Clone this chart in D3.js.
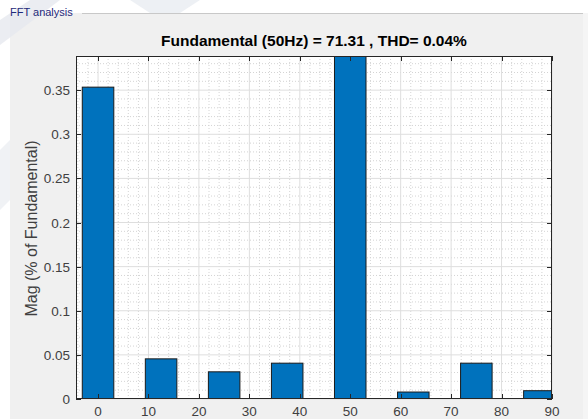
<!DOCTYPE html>
<html><head><meta charset="utf-8">
<script src="https://cdn.jsdelivr.net/npm/d3@7"></script>
<style>html,body{margin:0;padding:0;background:#fff;overflow:hidden}</style>
</head><body>
<svg id="c" width="588" height="419"></svg>
<script>
const freqs = [0, 12.5, 25, 37.5, 50, 62.5, 75, 87.5];
const mags = [0.3534, 0.0455, 0.0308, 0.0406, 100, 0.0079, 0.0406, 0.0094];
const xTicks = [0, 10, 20, 30, 40, 50, 60, 70, 80, 90];
const yTicks = [0, 0.05, 0.1, 0.15, 0.2, 0.25, 0.3, 0.35];
const titleText = "Fundamental (50Hz) = 71.31 , THD= 0.04%";
const yLabel = "Mag (% of Fundamental)";
const panelTitle = "FFT analysis";

const svg = d3.select("#c");
const font = "'Liberation Sans', Arial, Helvetica, sans-serif";
const L = 76, R = 552, T = 56, B = 399;
const x = d3.scaleLinear().domain([-4.37, 90]).range([L, R]);
const y = d3.scaleLinear().domain([0, 0.3887]).range([B, T]);

// background / watermark
svg.append("rect").attr("width", 588).attr("height", 419).attr("fill", "#ffffff");
svg.append("rect").attr("x", 10).attr("y", 13).attr("width", 573).attr("height", 406).attr("fill", "#f0f0f0");
svg.append("rect").attr("x", 583).attr("y", 13).attr("width", 5).attr("height", 406).attr("fill", "#f5f5f5");
svg.append("path").attr("d", "M0,20 L30,0 L60,0 L0,45 Z").attr("fill", "#e6e9ef").attr("opacity", 0.8);
svg.append("path").attr("d", "M0,150 L10,140 L10,200 L0,210 Z").attr("fill", "#e6e9ef").attr("opacity", 0.6);
svg.append("path").attr("d", "M130,0 L200,0 L180,13 L150,13 Z").attr("fill", "#e6e9ef").attr("opacity", 0.7);
// panel border
svg.append("line").attr("x1", 82).attr("x2", 583).attr("y1", 13.5).attr("y2", 13.5).attr("stroke", "#c8c8c8");
svg.append("text").attr("x", 10).attr("y", 16).attr("font-family", font).attr("font-size", 11)
  .attr("fill", "#1f2a7a").text(panelTitle);

// plot area
svg.append("rect").attr("x", L).attr("y", T).attr("width", R - L).attr("height", B - T).attr("fill", "#fff");
svg.append("clipPath").attr("id", "clip").append("rect").attr("x", L).attr("y", T).attr("width", R - L).attr("height", B - T);

const g = svg.append("g");
// minor grid
const xMinor = d3.range(-4, 91, 2).filter(v => v % 10 !== 0 && v >= -4.37);
const yMinor = d3.range(1, 39).map(v => v * 0.01).filter(v => Math.round(v * 100) % 5 !== 0);
g.selectAll(".xm").data(xMinor).join("line").attr("x1", d => x(d)).attr("x2", d => x(d)).attr("y1", T).attr("y2", B)
  .attr("stroke", "#d4d4d4").attr("stroke-width", 1).attr("stroke-dasharray", "1,2");
g.selectAll(".ym").data(yMinor).join("line").attr("y1", d => y(d)).attr("y2", d => y(d)).attr("x1", L).attr("x2", R)
  .attr("stroke", "#d4d4d4").attr("stroke-width", 1).attr("stroke-dasharray", "1,2");
// major grid
g.selectAll(".xg").data(xTicks).join("line").attr("x1", d => x(d)).attr("x2", d => x(d)).attr("y1", T).attr("y2", B)
  .attr("stroke", "#dedede").attr("stroke-width", 1);
g.selectAll(".yg").data(yTicks).join("line").attr("y1", d => y(d)).attr("y2", d => y(d)).attr("x1", L).attr("x2", R)
  .attr("stroke", "#dedede").attr("stroke-width", 1);

// bars
const bw = x(6.25) - x(0);
svg.append("g").attr("clip-path", "url(#clip)").selectAll("rect").data(freqs).join("rect")
  .attr("x", (d) => x(d) - bw / 2).attr("width", bw)
  .attr("y", (d, i) => y(Math.min(mags[i], 1))).attr("height", (d, i) => B - y(Math.min(mags[i], 1)))
  .attr("fill", "#0072BD").attr("stroke", "#1a1a1a").attr("stroke-width", 1);

// axes
const ax = svg.append("g").attr("stroke", "#262626").attr("stroke-width", 1).attr("fill", "none");
ax.append("rect").attr("x", L + 0.5).attr("y", T + 0.5).attr("width", R - L - 1).attr("height", B - T - 1);
const tl = 5;
xTicks.forEach(v => {
  const px = Math.round(x(v)) + 0.5;
  ax.append("line").attr("x1", px).attr("x2", px).attr("y1", B).attr("y2", B - tl);
  ax.append("line").attr("x1", px).attr("x2", px).attr("y1", T).attr("y2", T + tl);
});
yTicks.forEach(v => {
  const py = Math.round(y(v)) + 0.5;
  ax.append("line").attr("y1", py).attr("y2", py).attr("x1", L).attr("x2", L + tl);
  ax.append("line").attr("y1", py).attr("y2", py).attr("x1", R).attr("x2", R - tl);
});

// tick labels
svg.append("g").selectAll("text").data(xTicks).join("text")
  .attr("x", d => x(d)).attr("y", 415.5).attr("text-anchor", "middle")
  .attr("font-family", font).attr("font-size", 13.5).attr("fill", "#404040").text(d => d);
svg.append("g").selectAll("text").data(yTicks).join("text")
  .attr("x", L - 6).attr("y", d => y(d) + 5).attr("text-anchor", "end")
  .attr("font-family", font).attr("font-size", 13.5).attr("fill", "#404040").text(d => d);

// title & label
svg.append("text").attr("x", (L + R) / 2).attr("y", 46).attr("text-anchor", "middle")
  .attr("font-family", font).attr("font-size", 15.5).attr("font-weight", "bold").attr("fill", "#000").text(titleText);
svg.append("text").attr("transform", `translate(37,${(T + B) / 2 + 1}) rotate(-90)`).attr("text-anchor", "middle")
  .attr("font-family", font).attr("font-size", 16).attr("fill", "#404040").text(yLabel);
</script>
</body></html>
